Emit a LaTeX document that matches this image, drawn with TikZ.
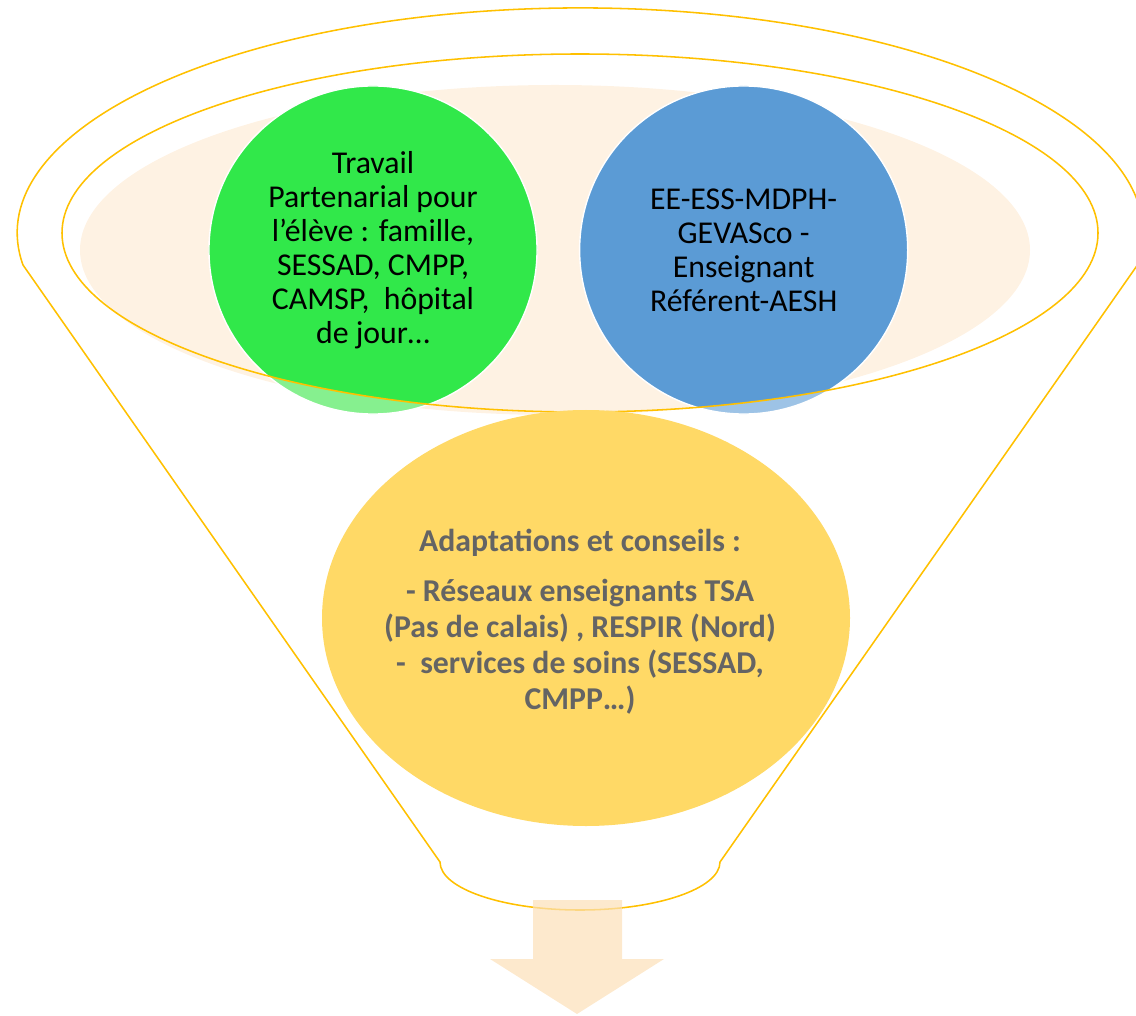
\documentclass[tikz,border=0pt]{standalone}
\usepackage{fontspec}
\setmainfont{Carlito}
\usepackage{xcolor}
\usetikzlibrary{positioning}
\definecolor{rim-gold}{HTML}{FFC000}
\definecolor{rim-peach}{HTML}{FEF2E3}
\definecolor{green-full}{HTML}{31E84A}
\definecolor{green-light}{HTML}{86F08F}
\definecolor{blue-full}{HTML}{5B9BD5}
\definecolor{blue-light}{HTML}{9DC3E6}
\definecolor{soft-yellow}{HTML}{FFD966}
\definecolor{text-grey}{HTML}{646464}
\definecolor{arrow-peach}{HTML}{FCE0B8}

\begin{document}
\begin{tikzpicture}[
    x=0.025cm, y=-0.025cm,
    rim/.style={draw=rim-gold, line width=1.1pt},
    disc/.style={circle, minimum size=8.2cm, inner sep=0pt},
    disctext/.style={align=center, font=\fontsize{22.6}{24.2}\selectfont},
    advice/.style={align=center, text=text-grey,
                   font=\fontsize{22.6}{25.6}\selectfont\bfseries}
]
  \useasboundingbox (0,0) rectangle (1136,1016);

  % Funnel outline
  \draw[rim] (23,265) arc[start angle=171.8, end angle=368.2, x radius=563, y radius=225]
    -- (720,862) arc[start angle=0, end angle=180, x radius=140, y radius=48] -- cycle;

  % Peach inside of the rim
  \fill[rim-peach] (555,250) ellipse[x radius=475, y radius=165];

  % Circles (light part outside the rim)
  \node[disc, fill=green-light] (travail) at (373,250) {};
  \node[disc, fill=blue-light, right=1.05cm of travail] (ee) {};

  % Full colour inside the rim
  \begin{scope}
    \clip (580,233) ellipse[x radius=518, y radius=179];
    \fill[green-full] (travail) circle[radius=4.1cm];
    \fill[blue-full] (ee) circle[radius=4.1cm];
  \end{scope}
  \draw[white, line width=1pt] (travail) circle[radius=4.1cm];
  \draw[white, line width=1pt] (ee) circle[radius=4.1cm];

  % Circle texts
  \node[disctext] (travail-txt) at (travail) {Travail\\Partenarial pour\\l’élève : famille,\\SESSAD, CMPP,\\CAMSP,~ hôpital\\de jour…};
  \node[disctext] (ee-txt) at (ee) {EE-ESS-MDPH-\\GEVASco -\\Enseignant\\Référent-AESH};

  % Rim
  \draw[rim] (580,233) ellipse[x radius=518, y radius=179];

  % Adaptations
  \fill[soft-yellow] (586,618) ellipse[x radius=264, y radius=208];
  \node[advice] (adapt) at (580,622) {Adaptations et conseils :\\[10pt]
    - Réseaux enseignants TSA\\(Pas de calais) , RESPIR (Nord)\\-~ services de soins (SESSAD,\\CMPP…)};

  % Output arrow
  \fill[arrow-peach, fill opacity=0.7] (533,900) -- (622,900) -- (622,959) -- (664,959)
    -- (577,1014) -- (490,959) -- (533,959) -- cycle;

\end{tikzpicture}
\end{document}
